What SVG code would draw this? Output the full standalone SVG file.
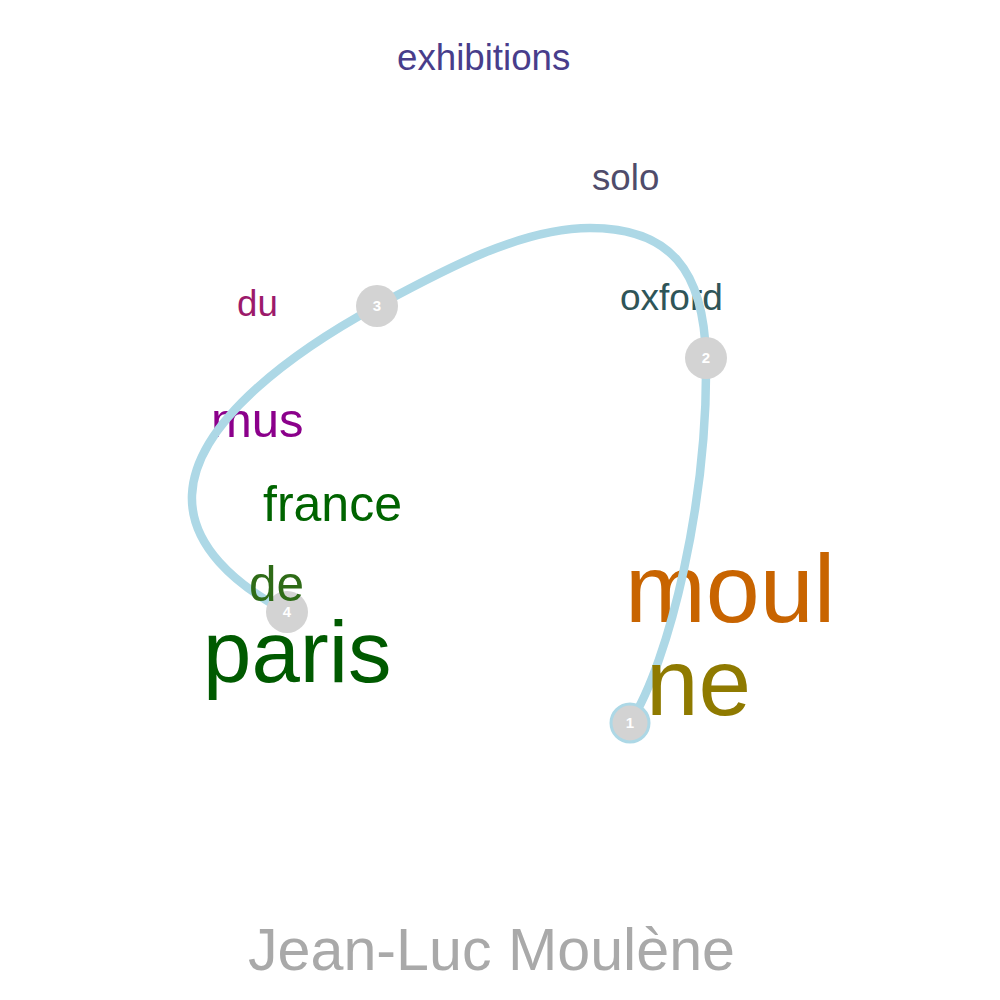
<svg xmlns="http://www.w3.org/2000/svg" width="1000" height="1000" viewBox="0 0 1000 1000">
<style>
text{font-family:"Liberation Sans",Arial,sans-serif}
.edge{fill:none;stroke:#ADD8E6;stroke-width:8.5;stroke-linecap:round}
.node{fill:#D3D3D3}
.lbl{fill:#FFFFFF;font-size:15px;font-weight:bold;text-anchor:middle}
</style>
<rect width="1000" height="1000" fill="#FFFFFF"/>
<g id="words-under">
<text x="211" y="437" font-size="49" fill="#8B008B">mus</text>
<text x="625" y="622" font-size="97" fill="#C86400">moul</text>
<text x="620" y="310" font-size="37" fill="#2F5558">oxford</text>
</g>
<g id="connectors">
<path class="edge" d="M630,723 C670,660 708,500 706,358 C704,270 670,228 590,228 C520,228 440,272 377,306 C300,348 195,420 192,495 C190,545 235,585 287,612"/>
</g>
<g id="node1"><circle class="node" cx="630" cy="723" r="19" stroke="#ADD8E6" stroke-width="3"/><text class="lbl" x="630" y="728">1</text></g>
<g id="node2"><circle class="node" cx="706" cy="358" r="21"/><text class="lbl" x="706" y="363">2</text></g>
<g id="node3"><circle class="node" cx="377" cy="306" r="21"/><text class="lbl" x="377" y="311">3</text></g>
<g id="node4"><circle class="node" cx="287" cy="612" r="21"/><text class="lbl" x="287" y="617">4</text></g>
<g id="words">
<text x="397" y="70" font-size="36.7" fill="#483D8B">exhibitions</text>
<text x="592" y="190" font-size="36.7" fill="#4F4C6B">solo</text>
<text x="237" y="316" font-size="36.7" fill="#9C1A6B">du</text>
<text x="263" y="521" font-size="50" fill="#006400">france</text>
<text x="249" y="601" font-size="49.5" fill="#2E6B17">de</text>
<text x="203" y="682" font-size="87" fill="#005A00">paris</text>
<text x="646" y="715" font-size="94.5" fill="#8F7A00">ne</text>
</g>
<text id="title" x="248" y="970" font-size="59.2" fill="#A9A9A9">Jean-Luc Moulène</text>
</svg>
